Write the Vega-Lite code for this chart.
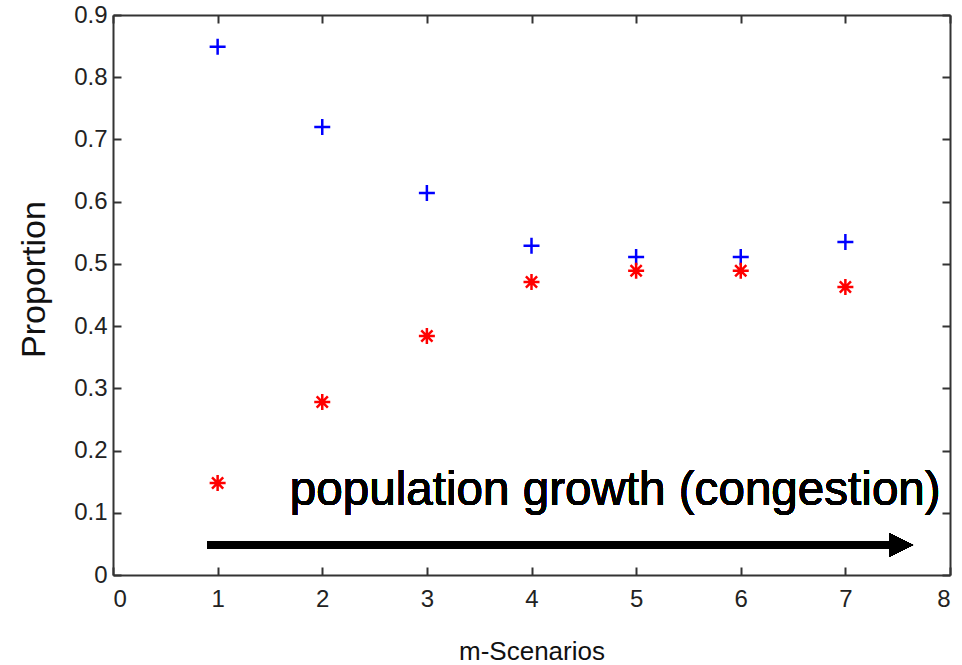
{
  "$schema": "https://vega.github.io/schema/vega-lite/v6.json",
  "width": 837,
  "height": 560,
  "autosize": {"type": "none"},
  "padding": {"left": 113, "top": 15, "right": 12, "bottom": 90},
  "background": "white",
  "config": {
    "view": {"stroke": null},
    "font": "Liberation Sans",
    "axis": {
      "grid": false,
      "domainColor": "#333333",
      "domainWidth": 2,
      "tickColor": "#333333",
      "tickWidth": 2,
      "tickSize": -8,
      "labelFont": "Liberation Sans",
      "labelFontSize": 24,
      "labelColor": "#222222",
      "titleFont": "Liberation Sans",
      "titleFontWeight": "normal",
      "titleColor": "#111111"
    }
  },
  "data": {
    "values": [
      {"scenario": 1, "proportion": 0.849, "series": "plus"},
      {"scenario": 2, "proportion": 0.720, "series": "plus"},
      {"scenario": 3, "proportion": 0.614, "series": "plus"},
      {"scenario": 4, "proportion": 0.529, "series": "plus"},
      {"scenario": 5, "proportion": 0.511, "series": "plus"},
      {"scenario": 6, "proportion": 0.511, "series": "plus"},
      {"scenario": 7, "proportion": 0.535, "series": "plus"},
      {"scenario": 1, "proportion": 0.148, "series": "star"},
      {"scenario": 2, "proportion": 0.278, "series": "star"},
      {"scenario": 3, "proportion": 0.384, "series": "star"},
      {"scenario": 4, "proportion": 0.471, "series": "star"},
      {"scenario": 5, "proportion": 0.489, "series": "star"},
      {"scenario": 6, "proportion": 0.489, "series": "star"},
      {"scenario": 7, "proportion": 0.463, "series": "star"}
    ]
  },
  "resolve": {"axis": {"x": "independent", "y": "independent"}},
  "layer": [
    {
      "mark": {"type": "point", "filled": false, "strokeWidth": 2.5, "size": 256, "opacity": 1},
      "encoding": {
        "x": {
          "field": "scenario", "type": "quantitative",
          "scale": {"domain": [0, 8], "nice": false, "zero": false},
          "axis": {"orient": "bottom", "values": [0,1,2,3,4,5,6,7,8], "labelFontSize": 24, "labelPadding": 20, "title": "m-Scenarios", "titleFontSize": 26, "titlePadding": 27}
        },
        "y": {
          "field": "proportion", "type": "quantitative",
          "scale": {"domain": [0, 0.9], "nice": false, "zero": false},
          "axis": {"orient": "left", "values": [0,0.1,0.2,0.3,0.4,0.5,0.6,0.7,0.8,0.9], "format": "~g", "labelFontSize": 24, "labelPadding": 14, "title": "Proportion", "titleFontSize": 34, "titlePadding": 22, "titleY": 264}
        },
        "color": {
          "field": "series", "type": "nominal",
          "scale": {"domain": ["plus", "star"], "range": ["#0000ff", "#ff0000"]},
          "legend": null
        },
        "shape": {
          "field": "series", "type": "nominal",
          "scale": {"domain": ["plus", "star"], "range": ["M-1,0L1,0M0,-1L0,1", "M-1,0L1,0M0,-1L0,1M-0.7,-0.7L0.7,0.7M-0.7,0.7L0.7,-0.7"]},
          "legend": null
        }
      }
    },
    {
      "mark": {"type": "rule", "strokeWidth": 8, "color": "black"},
      "encoding": {
        "x": {"datum": 0.9, "type": "quantitative", "axis": {"orient": "top", "values": [0,1,2,3,4,5,6,7,8], "labels": false, "title": null}},
        "x2": {"datum": 7.46},
        "y": {"datum": 0.0482, "type": "quantitative", "axis": {"orient": "right", "values": [0,0.1,0.2,0.3,0.4,0.5,0.6,0.7,0.8,0.9], "labels": false, "title": null}}
      }
    },
    {
      "mark": {"type": "point", "filled": true, "color": "black", "opacity": 1, "size": 560, "shape": "M-1,-1L1,0L-1,1Z"},
      "encoding": {
        "x": {"datum": 7.535, "type": "quantitative", "axis": null},
        "y": {"datum": 0.0482, "type": "quantitative", "axis": null}
      }
    },
    {
      "mark": {"type": "text", "text": "population growth (congestion)", "align": "left", "baseline": "alphabetic", "fontSize": 47.6, "font": "Liberation Sans", "color": "black"},
      "encoding": {
        "x": {"datum": 1.69, "type": "quantitative", "axis": null},
        "y": {"datum": 0.1125, "type": "quantitative", "axis": null}
      }
    }
  ]
}
